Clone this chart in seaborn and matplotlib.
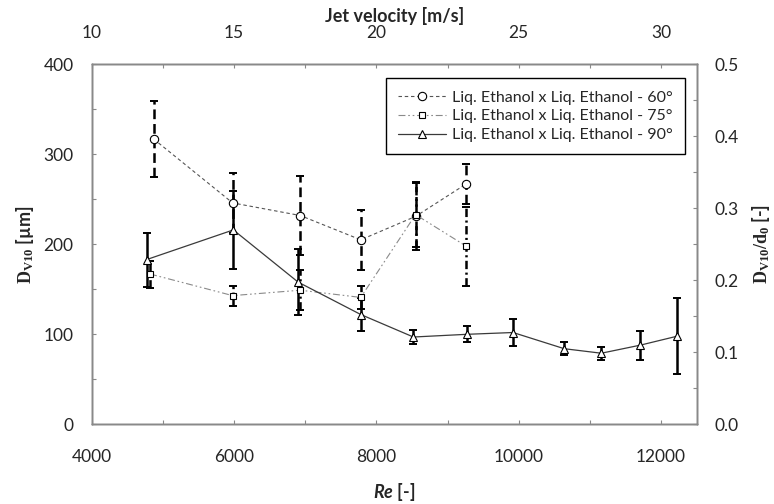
import matplotlib
matplotlib.use("Agg")
import matplotlib.pyplot as plt
from matplotlib.ticker import MultipleLocator, FormatStrFormatter
import seaborn as sns

sns.set_theme(style="white")
plt.rcParams['font.family'] = ['Lato', 'DejaVu Sans']
plt.rcParams['mathtext.fontset'] = 'custom'
plt.rcParams['mathtext.rm'] = 'Lato'
plt.rcParams['mathtext.it'] = 'Lato:italic:bold'   # only used for "Re"
plt.rcParams['mathtext.bf'] = 'Liberation Serif:bold'
plt.rcParams['lines.scale_dashes'] = False

# ── Data ──────────────────────────────────────────────────────────────────────
re_60 = [4870, 5980, 6930, 7780, 8550, 9260]
d_60 = [317, 246, 232, 205, 231, 267]
err_60 = [42, 33, 44, 33, 37, 22]

re_75 = [4820, 5980, 6930, 7780, 8550, 9260]
d_75 = [167, 143, 149, 141, 233, 198]
err_75 = [15, 11, 22, 13, 36, 44]

re_90 = [4770, 5990, 6900, 7780, 8520, 9270, 9920, 10640, 11160, 11710, 12230]
d_90 = [183, 216, 158, 122, 97, 100, 102, 84, 79, 88, 98]
err_90 = [30, 43, 37, 18, 8, 9, 15, 7, 7, 16, 42]

labels = ["Liq. Ethanol x Liq. Ethanol - 60°",
          "Liq. Ethanol x Liq. Ethanol - 75°",
          "Liq. Ethanol x Liq. Ethanol - 90°"]

RE_MIN, RE_MAX = 4000, 12500
D0 = 800.0  # um, right axis = D / d0
SPINE = '#898989'
TICK_FS = 12.5

fig = plt.figure(figsize=(7.74, 5.04), dpi=100)
ax = fig.add_axes([0.1185, 0.1581, 0.9001 - 0.1185, 0.8724 - 0.1581])

series = [
    (re_60, d_60, err_60, labels[0], 'o', 6.0, '#555555', (0, (2.5, 2)), 0.8, (0, (7, 3.5))),
    (re_75, d_75, err_75, labels[1], 's', 4.5, '#8a8a8a', (0, (5, 2, 1.2, 2, 1.2, 2)), 0.8, (0, (6, 2.5, 1.5, 2.5))),
    (re_90, d_90, err_90, labels[2], '^', 5.5, '#3a3a3a', '-', 0.9, '-'),
]

for re, d, err, lab, mk, ms, col, ls, lw, els in series:
    sns.lineplot(x=re, y=d, ax=ax, color=col, linestyle=ls, linewidth=lw,
                 marker=mk, markersize=ms, mfc='white', mec='black', mew=0.8,
                 label=lab, zorder=3)
    eb = ax.errorbar(re, d, yerr=err, fmt='none', ecolor='black',
                     elinewidth=1.8, capsize=3, capthick=1.4, zorder=2)
    if els != '-':
        eb[2][0].set_linestyle(els)

ax.set_xlim(RE_MIN, RE_MAX)
ax.set_ylim(0, 400)
ax.xaxis.set_major_locator(MultipleLocator(2000))
ax.xaxis.set_minor_locator(MultipleLocator(1000))
ax.yaxis.set_major_locator(MultipleLocator(100))
ax.yaxis.set_minor_locator(MultipleLocator(50))

# right axis: D/d0
ax2 = ax.twinx()
ax2.set_ylim(0, 400 / D0)
ax2.yaxis.set_major_locator(MultipleLocator(0.1))
ax2.yaxis.set_minor_locator(MultipleLocator(0.05))
ax2.yaxis.set_major_formatter(FormatStrFormatter('%.1f'))

# top axis: jet velocity
ax3 = ax.twiny()
ax3.set_xlim(10 + (RE_MIN - 4000) / 400, 10 + (RE_MAX - 4000) / 400)
ax3.xaxis.set_major_locator(MultipleLocator(5))
ax3.xaxis.set_minor_locator(MultipleLocator(2.5))

for a in (ax, ax2, ax3):
    for sp in a.spines.values():
        sp.set_color(SPINE)
        sp.set_linewidth(1.0)
    a.grid(False)

ax.tick_params(which='both', direction='in', length=3.2, width=0.8, color=SPINE,
               labelsize=TICK_FS, top=False, right=False)
ax.tick_params(axis='y', which='major', pad=13)
ax.tick_params(axis='x', which='major', pad=18)
ax2.tick_params(which='both', direction='in', length=3.2, width=0.8, color=SPINE,
                labelsize=TICK_FS, pad=13)
ax3.tick_params(which='both', direction='in', length=3.2, width=0.8, color=SPINE,
                labelsize=TICK_FS, pad=17)

LAB_FS = 13
ax.set_xlabel(r'$Re$ [-]', fontsize=LAB_FS, fontweight='bold')
ax.xaxis.set_label_coords(0.5, -0.188)
ax.xaxis.label.set_va('center')
ax.set_ylabel(r'$\mathbf{D_{V10}}$ [µm]', fontsize=LAB_FS, fontweight='bold')
ax.yaxis.set_label_coords(-0.110, 0.5)
ax.yaxis.label.set_va('center')
ax2.set_ylabel(r'$\mathbf{D_{V10}/d_0}$ [-]', fontsize=LAB_FS, fontweight='bold')
ax2.yaxis.set_label_coords(1.107, 0.5)
ax2.yaxis.label.set_va('center')
ax3.set_xlabel('Jet velocity [m/s]', fontsize=LAB_FS, fontweight='bold')
ax3.xaxis.set_label_coords(0.5, 1.135)
ax3.xaxis.label.set_va('center')

leg = ax.legend(loc='upper right', bbox_to_anchor=(0.981, 0.961), fontsize=11.5,
                frameon=True, fancybox=False, framealpha=1, edgecolor='black',
                handlelength=3.0, handletextpad=0.4, borderpad=0.75,
                labelspacing=0.3, borderaxespad=0)
leg.get_frame().set_linewidth(1.0)

fig.savefig('out.png', dpi=100)
